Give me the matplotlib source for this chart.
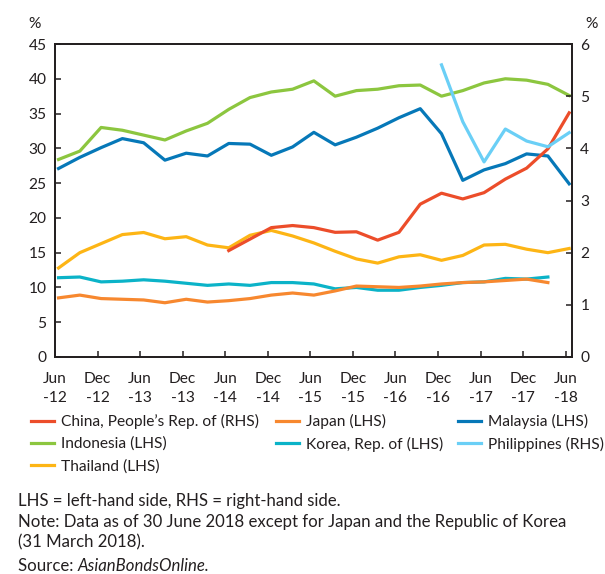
import matplotlib
matplotlib.use("Agg")
import matplotlib.pyplot as plt
import numpy as np
from matplotlib.lines import Line2D

plt.rcParams['font.family'] = ['Lato', 'DejaVu Sans']

# quarterly observations, Jun-12 .. Jun-18
quarters = ["Jun-12", "Sep-12", "Dec-12", "Mar-13", "Jun-13", "Sep-13", "Dec-13", "Mar-14",
            "Jun-14", "Sep-14", "Dec-14", "Mar-15", "Jun-15", "Sep-15", "Dec-15", "Mar-16",
            "Jun-16", "Sep-16", "Dec-16", "Mar-17", "Jun-17", "Sep-17", "Dec-17", "Mar-18",
            "Jun-18"]
tick_labels = ["Jun\n-12", "Dec\n-12", "Jun\n-13", "Dec\n-13", "Jun\n-14", "Dec\n-14", "Jun\n-15",
               "Dec\n-15", "Jun\n-16", "Dec\n-16", "Jun\n-17", "Dec\n-17", "Jun\n-18"]

# LHS series (%)
indonesia = [28.4, 29.6, 33.0, 32.6, 31.9, 31.2, 32.5, 33.6, 35.6, 37.3, 38.1, 38.5, 39.7,
             37.5, 38.3, 38.5, 39.0, 39.1, 37.5, 38.3, 39.4, 40.0, 39.8, 39.2, 37.6]
malaysia = [27.1, 28.7, 30.1, 31.4, 30.8, 28.3, 29.3, 28.9, 30.7, 30.6, 29.0, 30.2, 32.3,
            30.5, 31.6, 32.9, 34.4, 35.7, 32.1, 25.4, 26.9, 27.8, 29.2, 28.9, 24.9]
thailand = [12.8, 15.0, 16.3, 17.6, 17.9, 17.0, 17.3, 16.1, 15.7, 17.5, 18.2, 17.4, 16.4,
            15.2, 14.1, 13.5, 14.4, 14.7, 13.9, 14.6, 16.1, 16.2, 15.5, 15.0, 15.6]
korea = [11.4, 11.5, 10.8, 10.9, 11.1, 10.9, 10.6, 10.3, 10.5, 10.3, 10.7, 10.7, 10.5,
         9.8, 10.0, 9.6, 9.6, 10.0, 10.3, 10.7, 10.8, 11.3, 11.2, 11.5]
japan = [8.5, 8.9, 8.4, 8.3, 8.2, 7.8, 8.3, 7.9, 8.1, 8.4, 8.9, 9.2, 8.9,
         9.5, 10.2, 10.1, 10.0, 10.2, 10.5, 10.7, 10.8, 11.0, 11.2, 10.7]

# RHS series (%)
china = [2.04, 2.26, 2.48, 2.52, 2.48, 2.39, 2.40, 2.24, 2.39, 2.93, 3.14, 3.03, 3.15,
         3.41, 3.62, 3.99, 4.68]          # from Jun-14
philippines = [5.60, 4.51, 3.74, 4.37, 4.14, 4.03, 4.30]   # from Dec-16

c_china = "#EC4D2A"
c_japan = "#F7882F"
c_malaysia = "#0678B8"
c_indonesia = "#8CC63F"
c_korea = "#0BB3C8"
c_phil = "#6ACFF6"
c_thai = "#FDB515"
dark = "#231F20"
fs = 11.2
fs_note = 12.1

def xpos(start, n):
    # months after Jun-12, points sit near the end of the quarter month
    i0 = quarters.index(start)
    return 3 * (np.arange(n) + i0) + 0.5

fig = plt.figure(figsize=(6.05, 5.74), dpi=100)
ax = fig.add_axes([55 / 605, 1 - 357 / 574, (572 - 55) / 605, (357 - 44) / 574])
ax2 = ax.twinx()

lw = 2.3
ax.plot(xpos("Jun-12", len(korea)), korea, color=c_korea, lw=lw)
ax.plot(xpos("Jun-12", len(japan)), japan, color=c_japan, lw=lw)
ax.plot(xpos("Jun-12", len(thailand)), thailand, color=c_thai, lw=lw)
ax.plot(xpos("Jun-12", len(indonesia)), indonesia, color=c_indonesia, lw=lw)
ax.plot(xpos("Jun-12", len(malaysia)), malaysia, color=c_malaysia, lw=lw)
ax2.plot(xpos("Jun-14", len(china)), china, color=c_china, lw=lw)
ax2.plot(xpos("Dec-16", len(philippines)), philippines, color=c_phil, lw=lw)

ax.set_xlim(0, 72.9)
ax.set_ylim(0, 45)
ax2.set_ylim(0, 6)
ax.set_yticks(np.arange(0, 46, 5))
ax2.set_yticks(np.arange(0, 7, 1))
ax.set_xticks(np.arange(0, 73, 6))
ax.set_xticklabels(tick_labels, linespacing=1.45)

for a in (ax, ax2):
    for s in a.spines.values():
        s.set_color(dark)
        s.set_linewidth(1.3)
    a.tick_params(direction="in", length=4, width=1.1, color=dark, labelcolor=dark,
                  labelsize=fs)
ax.tick_params(axis="y", pad=6)
ax.tick_params(axis="x", pad=11)
ax2.tick_params(axis="y", pad=6)

fig.text(35 / 605, 1 - 24 / 574, "%", fontsize=fs, color=dark, ha="center", va="center")
fig.text(592 / 605, 1 - 24 / 574, "%", fontsize=fs, color=dark, ha="center", va="center")

def h(c, lab):
    return Line2D([0], [0], color=c, lw=2.3, label=lab)

# three legend columns placed separately
columns = [
    (31, [h(c_china, "China, People\u2019s Rep. of (RHS)"), h(c_indonesia, "Indonesia (LHS)"),
          h(c_thai, "Thailand (LHS)")]),
    (276, [h(c_japan, "Japan (LHS)"), h(c_korea, "Korea, Rep. of (LHS)")]),
    (458, [h(c_malaysia, "Malaysia (LHS)"), h(c_phil, "Philippines (RHS)")]),
]
for x0, hs in columns:
    leg = fig.legend(handles=hs, ncol=1, loc="upper left",
                     bbox_to_anchor=(x0 / 605, 1 - 414 / 574),
                     frameon=False, fontsize=fs, handlelength=1.45, handletextpad=0.45,
                     labelspacing=0.5, borderaxespad=0, borderpad=0, labelcolor=dark)

fig.text(18 / 605, 1 - 493 / 574, "LHS = left-hand side, RHS = right-hand side.\n"
         "Note: Data as of 30 June 2018 except for Japan and the Republic of Korea\n"
         "(31 March 2018).", fontsize=fs_note, color=dark, va="top", ha="left",
         linespacing=1.36)
src = fig.text(18 / 605, 1 - 571 / 574, "Source: ", fontsize=fs_note, color=dark,
               va="baseline", ha="left")
fig.canvas.draw()
bb = src.get_window_extent()
fig.text(bb.x1 / fig.bbox.width, 1 - 571 / 574, "AsianBondsOnline.", fontsize=fs_note,
         color=dark, va="baseline", ha="left", style="italic")

fig.savefig("out.png", dpi=100)
